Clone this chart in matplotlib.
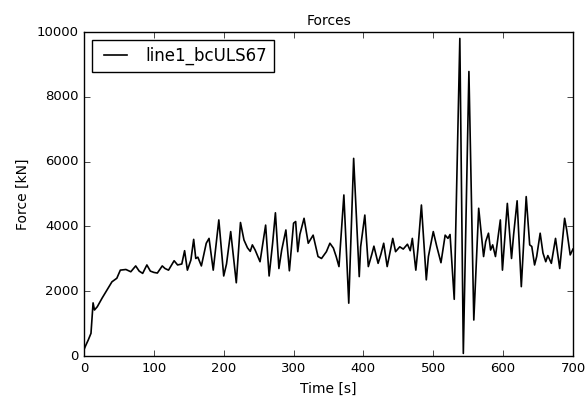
import matplotlib
matplotlib.use("Agg")
import matplotlib.pyplot as plt

# --- Datos ---
tiempo = [0, 3, 6, 10, 13, 15, 19, 26, 33, 40, 47, 52, 60, 67, 74, 79, 84, 90, 95, 100,
          105, 112, 116, 121, 129, 134, 140, 144, 148, 153, 157, 160, 163, 168, 175, 179,
          185, 193, 200, 204, 210, 218, 224, 229, 234, 238, 241, 245, 252, 260, 265, 270,
          274, 279, 283, 289, 294, 300, 303, 306, 309, 315, 321, 328, 335, 340, 347, 352,
          357, 361, 365, 372, 379, 386, 394, 396, 402, 407, 412, 415, 421, 425, 429, 434,
          442, 446, 452, 457, 463, 467, 470, 475, 478, 483, 490, 493, 500, 505, 511, 517,
          521, 524, 530, 538, 543, 551, 558, 565, 572, 575, 579, 582, 585, 589, 596, 599,
          606, 612, 615, 620, 626, 633, 638, 641, 645, 648, 653, 657, 661, 664, 669, 675,
          681, 688, 691, 696, 700]
fuerza = [200, 350, 490, 700, 1640, 1420, 1520, 1790, 2040, 2290, 2400, 2650, 2670, 2600,
          2780, 2620, 2550, 2810, 2620, 2580, 2560, 2780, 2700, 2650, 2940, 2810, 2840, 3250,
          2650, 2960, 3600, 3010, 3050, 2780, 3480, 3630, 2650, 4200, 2470, 2840, 3840, 2260,
          4120, 3580, 3340, 3230, 3430, 3270, 2910, 4040, 2470, 3480, 4420, 2700, 3270, 3890,
          2630, 4100, 4150, 3220, 3750, 4250, 3480, 3730, 3070, 3010, 3220, 3480, 3330, 3070,
          2760, 4970, 1630, 6100, 2450, 3370, 4350, 2760, 3140, 3390, 2860, 3140, 3480, 2760,
          3630, 3220, 3370, 3300, 3450, 3250, 3630, 2650, 3300, 4660, 2350, 3070, 3840, 3380,
          2880, 3730, 3630, 3750, 1750, 9800, 80, 8780, 1110, 4560, 3070, 3530, 3790, 3270,
          3430, 3070, 4200, 2650, 4710, 3010, 3750, 4790, 2140, 4920, 3430, 3380, 2810, 3070,
          3790, 3180, 2910, 3100, 2860, 3630, 2700, 4250, 3890, 3120, 3300]

# --- Graficar ---
plt.style.use("classic")
fig = plt.figure(figsize=(5.85, 4.01), dpi=100, facecolor="white")
ax = fig.add_axes([84 / 585, 1 - 356 / 401, (573 - 84) / 585, (356 - 32) / 401])
ax.plot(tiempo, fuerza, color="k", linewidth=1.2, label="line1_bcULS67")
ax.set_xlim(0, 700)
ax.set_ylim(0, 10000)
ax.set_title("Forces", fontsize=10)
ax.set_xlabel("Time [s]", fontsize=10)
ax.set_ylabel("Force [kN]", fontsize=10)
ax.tick_params(labelsize=9.5)
ax.legend(loc="upper left", fontsize=12)
fig.savefig("out.png", dpi=100, facecolor="white")
